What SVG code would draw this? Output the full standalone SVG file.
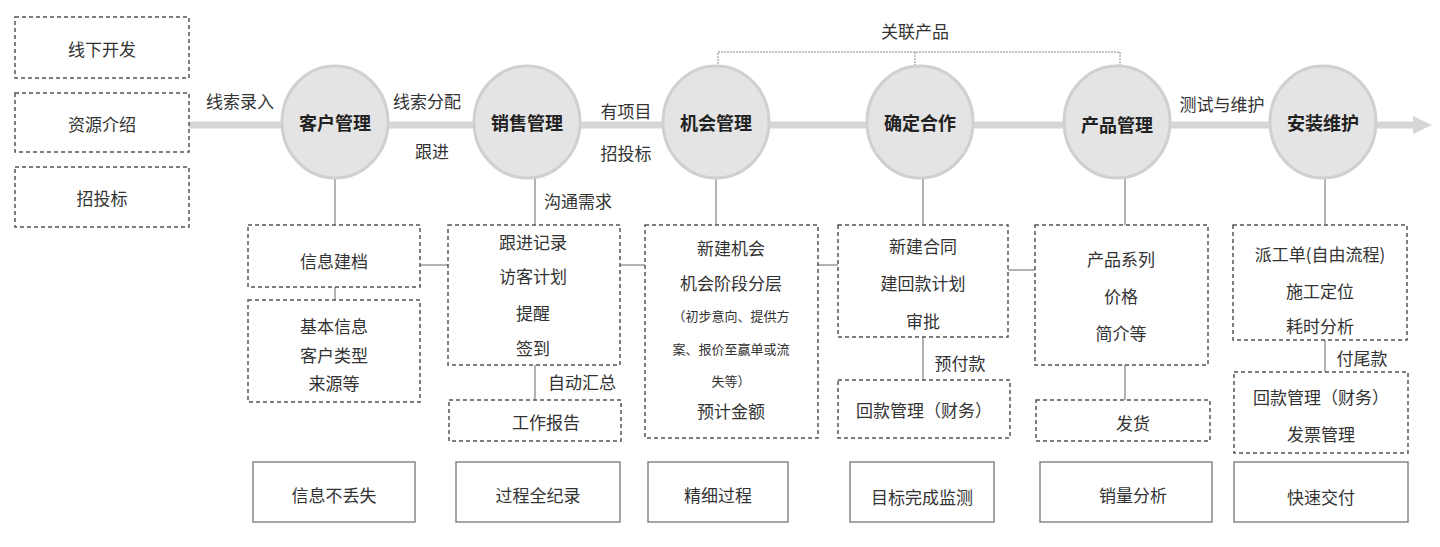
<svg xmlns="http://www.w3.org/2000/svg" width="1440" height="547" viewBox="0 0 1440 547">
<style>
text{font-family:"Noto Sans CJK SC","Liberation Sans",sans-serif;fill:#333;text-anchor:middle;dominant-baseline:central;font-size:17px}
.c{font-weight:bold;font-size:18px;fill:#222}
.s{font-size:13px}
.d{fill:#fff;stroke:#555;stroke-width:1.5;stroke-dasharray:4,3}
.b{fill:#fff;stroke:#888;stroke-width:1.5}
.k{fill:#e4e4e4;stroke:#d0d0d0;stroke-width:3}
.l{stroke:#666;stroke-width:1;fill:none}
.t{stroke:#888;stroke-width:1;fill:none;stroke-dasharray:2,1}
</style>
<g id="connectors">
<line x1="189" y1="125" x2="1415" y2="125" stroke="#d6d6d6" stroke-width="7"/>
<polygon points="1413,116 1432,125 1413,134" fill="#d6d6d6"/>
<polyline class="t" points="718,70 718,52 1120,52 1120,70"/>
<line class="t" x1="915" y1="52" x2="915" y2="70"/>
<line class="l" x1="335" y1="178" x2="335" y2="225"/>
<line class="l" x1="335" y1="287" x2="335" y2="300"/>
<line class="l" x1="535" y1="178" x2="535" y2="225"/>
<line class="l" x1="535" y1="365" x2="535" y2="400"/>
<line class="l" x1="716" y1="178" x2="716" y2="225"/>
<line class="l" x1="923" y1="178" x2="923" y2="225"/>
<line class="l" x1="923" y1="337" x2="923" y2="380"/>
<line class="l" x1="1125" y1="178" x2="1125" y2="225"/>
<line class="l" x1="1125" y1="365" x2="1125" y2="400"/>
<line class="l" x1="1325" y1="178" x2="1325" y2="225"/>
<line class="l" x1="1325" y1="340" x2="1325" y2="372"/>
<line class="l" x1="420" y1="265" x2="448" y2="265"/>
<line class="l" x1="620" y1="265" x2="645" y2="265"/>
<line class="l" x1="818" y1="265" x2="838" y2="265"/>
<line class="l" x1="1008" y1="270" x2="1035" y2="270"/>
<text x="915" y="30">关联产品</text>
<text x="240" y="100">线索录入</text>
<text x="427" y="100">线索分配</text>
<text x="432" y="150">跟进</text>
<text x="626" y="110">有项目</text>
<text x="626" y="152">招投标</text>
<text x="1222" y="103">测试与维护</text>
<text x="578" y="200">沟通需求</text>
<text x="582" y="381">自动汇总</text>
<text x="960" y="362">预付款</text>
<text x="1362" y="357">付尾款</text>
</g>
<g id="src1"><rect class="d" x="15" y="17" width="174" height="61"/><text x="102" y="48">线下开发</text></g>
<g id="src2"><rect class="d" x="15" y="93" width="174" height="59"/><text x="102" y="123">资源介绍</text></g>
<g id="src3"><rect class="d" x="15" y="167" width="174" height="60"/><text x="102" y="197">招投标</text></g>
<g id="n1"><ellipse class="k" cx="335" cy="122" rx="53" ry="56"/><text class="c" x="335" y="122">客户管理</text></g>
<g id="n2"><ellipse class="k" cx="527" cy="122" rx="53" ry="56"/><text class="c" x="527" y="122">销售管理</text></g>
<g id="n3"><ellipse class="k" cx="716" cy="122" rx="53" ry="56"/><text class="c" x="716" y="122">机会管理</text></g>
<g id="n4"><ellipse class="k" cx="920" cy="122" rx="53" ry="56"/><text class="c" x="920" y="122">确定合作</text></g>
<g id="n5"><ellipse class="k" cx="1117" cy="122" rx="53" ry="56"/><text class="c" x="1117" y="124">产品管理</text></g>
<g id="n6"><ellipse class="k" cx="1323" cy="122" rx="53" ry="56"/><text class="c" x="1323" y="122">安装维护</text></g>
<g id="b1"><rect class="d" x="248" y="225" width="172" height="62"/><text x="334" y="260">信息建档</text></g>
<g id="b1b"><rect class="d" x="248" y="300" width="172" height="102"/><text x="334" y="325">基本信息</text><text x="334" y="354">客户类型</text><text x="334" y="382">来源等</text></g>
<g id="b2"><rect class="d" x="448" y="225" width="172" height="140"/><text x="533" y="241">跟进记录</text><text x="533" y="275">访客计划</text><text x="533" y="312">提醒</text><text x="533" y="347">签到</text></g>
<g id="b2b"><rect class="d" x="449" y="400" width="172" height="41"/><text x="546" y="421">工作报告</text></g>
<g id="b3"><rect class="d" x="645" y="225" width="173" height="213"/><text x="731" y="247">新建机会</text><text x="731" y="282">机会阶段分层</text><text class="s" x="731" y="315">（初步意向、提供方</text><text class="s" x="731" y="348">案、报价至赢单或流</text><text class="s" x="731" y="380">失等）</text><text x="731" y="410">预计金额</text></g>
<g id="b4"><rect class="d" x="838" y="225" width="170" height="112"/><text x="923" y="245">新建合同</text><text x="923" y="282">建回款计划</text><text x="923" y="320">审批</text></g>
<g id="b4b"><rect class="d" x="838" y="380" width="172" height="58"/><text x="924" y="409">回款管理（财务）</text></g>
<g id="b5"><rect class="d" x="1035" y="225" width="173" height="140"/><text x="1121" y="258">产品系列</text><text x="1121" y="295">价格</text><text x="1121" y="332">简介等</text></g>
<g id="b5b"><rect class="d" x="1036" y="400" width="174" height="41"/><text x="1133" y="422">发货</text></g>
<g id="b6"><rect class="d" x="1233" y="225" width="174" height="115"/><text x="1320" y="253">派工单(自由流程)</text><text x="1320" y="290">施工定位</text><text x="1320" y="325">耗时分析</text></g>
<g id="b6b"><rect class="d" x="1234" y="372" width="174" height="81"/><text x="1321" y="396">回款管理（财务）</text><text x="1321" y="433">发票管理</text></g>
<g id="r1"><rect class="b" x="253" y="462" width="162" height="60"/><text x="334" y="494">信息不丢失</text></g>
<g id="r2"><rect class="b" x="456" y="462" width="164" height="60"/><text x="538" y="494">过程全纪录</text></g>
<g id="r3"><rect class="b" x="648" y="462" width="140" height="60"/><text x="718" y="494">精细过程</text></g>
<g id="r4"><rect class="b" x="850" y="462" width="144" height="60"/><text x="922" y="496">目标完成监测</text></g>
<g id="r5"><rect class="b" x="1040" y="462" width="172" height="60"/><text x="1133" y="494">销量分析</text></g>
<g id="r6"><rect class="b" x="1234" y="462" width="174" height="60"/><text x="1321" y="496">快速交付</text></g>
</svg>
